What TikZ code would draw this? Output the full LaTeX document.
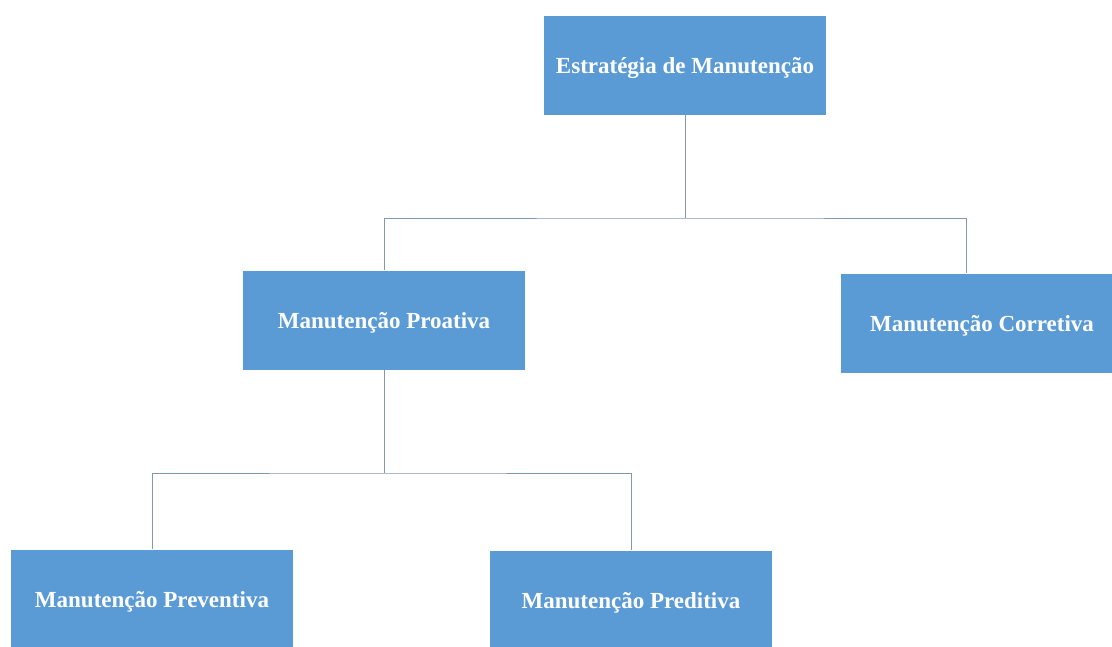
\documentclass[tikz,border=0pt]{standalone}
\usepackage{fontspec}
\setmainfont{Liberation Serif}
\usepackage{xcolor}
\usepackage{tikz}
\definecolor{caixaazul}{HTML}{5B9BD5}
\definecolor{ligacor}{HTML}{8098B0}

\begin{document}
\begin{tikzpicture}[x=1pt,y=-1pt,
  caixa/.style={fill=caixaazul,minimum width=282pt,minimum height=99pt,inner sep=0pt,
    text depth=0pt,text=white,font=\fontsize{23}{27}\selectfont\bfseries},
  liga/.style={draw=ligacor,line width=1pt}]
  \useasboundingbox (0,0) rectangle (1112,646);
  \node[caixa] (estr) at (685,65.5) {Estratégia de Manutenção};
  \node[caixa] (proa) at (384,320) {Manutenção Proativa};
  \node[caixa] (corr) at (982,323) {Manutenção Corretiva};
  \node[caixa] (prev) at (152,599) {Manutenção Preventiva};
  \node[caixa] (pred) at (631,600) {Manutenção Preditiva};
  \coordinate (nivel1) at (685,218);
  \coordinate (nivel2) at (384,473);
  \draw[liga] (estr.south) -- (nivel1);
  \draw[liga] (proa.north) |- (nivel1) -| ([xshift=-16pt]corr.north);
  \draw[liga] (proa.south) -- (nivel2);
  \draw[liga] (prev.north) |- (nivel2) -| (pred.north);
\end{tikzpicture}
\end{document}
